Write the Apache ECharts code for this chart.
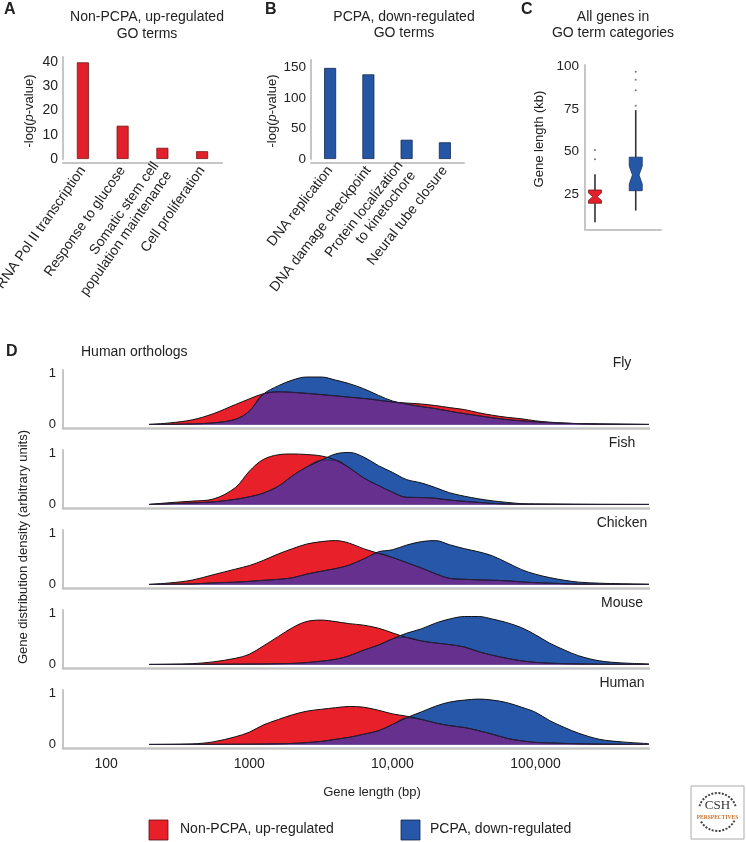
<!DOCTYPE html>
<html>
<head>
<meta charset="utf-8">
<script src="https://cdn.jsdelivr.net/npm/echarts@6/dist/echarts.min.js"></script>
<style>
  html, body { margin: 0; padding: 0; background: #fff; }
  #chart { width: 746px; height: 842px; }
</style>
</head>
<body>
<div id="chart"></div>
<script>
// ---- data ----

// A: non-PCPA, up-regulated GO terms
var upTerms = ['RNA Pol II transcription', 'Response to glucose', 'Somatic stem cell\npopulation maintenance', 'Cell proliferation'];
var upLogP = [39.8, 13.7, 4.6, 3.2];

// B: PCPA, down-regulated GO terms
var downTerms = ['DNA replication', 'DNA damage checkpoint', 'Protein localization\nto kinetochore', 'Neural tube closure'];
var downLogP = [149, 138.5, 31.5, 27.3];

// C: gene length (kb) boxes, [x, low, q1, notchLow, median, notchHigh, q3, high]
var boxStats = [
    [1, 8.5, 19.7, 21.4, 23.6, 25.8, 27.5, 36.8],
    [2, 15.4, 27.1, 31.0, 36.3, 41.6, 46.8, 74.5]
];
var boxOutliers = [[1, 51], [1, 45.6], [2, 97], [2, 92.3], [2, 86.2], [2, 77]];
var boxTicks = [25, 50, 75, 100];

// D: density of gene length (bp), one row per ortholog set
var species = ['Fly', 'Fish', 'Chicken', 'Mouse', 'Human'];
var geneLength = [200, 280, 400, 560, 800, 1000, 1250, 1600, 2000, 2500, 3200, 4000, 5000, 6300, 8000,
    10000, 12500, 16000, 20000, 25000, 32000, 40000, 50000, 63000, 80000, 100000, 125000, 160000,
    200000, 280000, 400000, 620000];
var lengthTicks = [100, 1000, 10000, 100000];

var flyUp = [0, 0.03, 0.09, 0.21, 0.39, 0.5, 0.6, 0.64, 0.63, 0.61, 0.585, 0.56, 0.535, 0.51, 0.475, 0.44, 0.42, 0.4, 0.37, 0.33, 0.29, 0.23, 0.18, 0.14, 0.11, 0.07, 0.045, 0.025, 0.015, 0.007, 0.003, 0];
var flyDown = [0, 0.003, 0.01, 0.03, 0.1, 0.26, 0.59, 0.76, 0.87, 0.93, 0.93, 0.87, 0.8, 0.7, 0.57, 0.46, 0.4, 0.35, 0.31, 0.26, 0.21, 0.17, 0.13, 0.095, 0.07, 0.05, 0.035, 0.024, 0.017, 0.01, 0.005, 0];
var fishUp = [0, 0.035, 0.065, 0.105, 0.33, 0.65, 0.88, 0.975, 0.99, 0.98, 0.95, 0.87, 0.72, 0.52, 0.37, 0.24, 0.14, 0.135, 0.12, 0.085, 0.06, 0.04, 0.02, 0.01, 0.006, 0.004, 0.003, 0.002, 0.001, 0, 0, 0];
var fishDown = [0, 0.015, 0.03, 0.05, 0.1, 0.15, 0.22, 0.36, 0.56, 0.73, 0.87, 0.99, 1.02, 0.93, 0.76, 0.63, 0.49, 0.42, 0.33, 0.23, 0.16, 0.11, 0.07, 0.04, 0.015, 0.01, 0.007, 0.005, 0.003, 0.002, 0.001, 0];
var chickenUp = [0, 0.03, 0.085, 0.19, 0.3, 0.37, 0.47, 0.6, 0.7, 0.79, 0.84, 0.86, 0.81, 0.7, 0.61, 0.53, 0.43, 0.32, 0.21, 0.12, 0.1, 0.09, 0.083, 0.07, 0.05, 0.035, 0.025, 0.014, 0.008, 0.004, 0.002, 0];
var chickenDown = [0, 0.005, 0.01, 0.03, 0.045, 0.06, 0.08, 0.1, 0.13, 0.2, 0.26, 0.31, 0.38, 0.5, 0.64, 0.68, 0.77, 0.84, 0.86, 0.78, 0.7, 0.64, 0.56, 0.43, 0.29, 0.2, 0.135, 0.08, 0.045, 0.024, 0.013, 0.005];
var mouseUp = [0, 0.005, 0.015, 0.05, 0.12, 0.2, 0.36, 0.55, 0.72, 0.84, 0.87, 0.84, 0.8, 0.77, 0.71, 0.62, 0.53, 0.46, 0.42, 0.39, 0.34, 0.25, 0.18, 0.12, 0.07, 0.04, 0.025, 0.015, 0.01, 0.005, 0.002, 0];
var mouseDown = [0, 0, 0.002, 0.004, 0.006, 0.008, 0.01, 0.015, 0.02, 0.035, 0.065, 0.1, 0.17, 0.28, 0.38, 0.5, 0.61, 0.7, 0.81, 0.89, 0.94, 0.94, 0.89, 0.82, 0.72, 0.58, 0.42, 0.28, 0.17, 0.07, 0.03, 0.01];
var humanUp = [0, 0.003, 0.01, 0.05, 0.15, 0.24, 0.38, 0.49, 0.58, 0.65, 0.69, 0.72, 0.745, 0.73, 0.67, 0.6, 0.555, 0.49, 0.42, 0.37, 0.33, 0.27, 0.2, 0.12, 0.07, 0.04, 0.03, 0.02, 0.013, 0.007, 0.003, 0];
var humanDown = [0, 0, 0.002, 0.003, 0.004, 0.005, 0.008, 0.012, 0.02, 0.035, 0.06, 0.1, 0.14, 0.2, 0.27, 0.39, 0.52, 0.64, 0.75, 0.83, 0.87, 0.89, 0.87, 0.82, 0.73, 0.63, 0.47, 0.33, 0.22, 0.1, 0.05, 0.015];

var densityUp = [flyUp, fishUp, chickenUp, mouseUp, humanUp];
var densityDown = [flyDown, fishDown, chickenDown, mouseDown, humanDown];

// ---- styles ----
var FONT = "'Liberation Sans', Arial, Helvetica, sans-serif";
var INK = '#222';
var AXIS_GRAY = '#c6c6c6';
var RED = '#E8202A', BLUE = '#2757A8', PURPLE = '#66308E';
var BOX_FILL = ['#E2202B', '#2457A6'];
var BOX_EDGE = ['#7a1414', '#16306a'];

function txt(text, x, y, size, opt) {
    opt = opt || {};
    var align = opt.align || 'center';
    return {
        type: 'text', x: x, y: y, silent: true,
        rotation: opt.rotate ? Math.PI / 2 : 0,
        style: {
            text: text, fill: INK,
            font: (opt.bold ? 'bold ' : '') + size + 'px ' + FONT,
            textAlign: align, align: align,
            textVerticalAlign: 'middle', verticalAlign: 'middle',
            rich: opt.rich
        }
    };
}

var italicP = {
    i: { fontStyle: 'italic', fontSize: 13, fontFamily: FONT, fill: INK },
    n: { fontSize: 13, fontFamily: FONT, fill: INK }
};

var graphics = [
    txt('A', 4, 10, 16, { bold: true, align: 'left' }),
    txt('B', 265, 10, 16, { bold: true, align: 'left' }),
    txt('C', 521, 10, 16, { bold: true, align: 'left' }),
    txt('D', 6, 352, 16, { bold: true, align: 'left' }),
    txt('Non-PCPA, up-regulated', 147, 17, 14),
    txt('GO terms', 147, 34, 14),
    txt('PCPA, down-regulated', 404, 17, 14),
    txt('GO terms', 404, 33, 14),
    txt('All genes in', 613, 17, 14),
    txt('GO term categories', 613, 33, 14),
    txt('{n|-log(}{i|p}{n|-value)}', 29, 111, 13, { rotate: true, rich: italicP }),
    txt('{n|-log(}{i|p}{n|-value)}', 272, 111, 13, { rotate: true, rich: italicP }),
    txt('Gene length (kb)', 539, 139, 13, { rotate: true }),
    txt('Gene distribution density (arbitrary units)', 23, 547, 13, { rotate: true }),
    txt('Human orthologs', 81, 352, 14, { align: 'left' }),
    txt('Gene length (bp)', 372, 792, 13),
    { type: 'rect', shape: { x: 149, y: 820, width: 19, height: 20 }, style: { fill: RED, stroke: '#5a1010', lineWidth: 0.8 } },
    txt('Non-PCPA, up-regulated', 180, 829, 14, { align: 'left' }),
    { type: 'rect', shape: { x: 401, y: 820, width: 19, height: 20 }, style: { fill: BLUE, stroke: '#10244f', lineWidth: 0.8 } },
    txt('PCPA, down-regulated', 430, 829, 14, { align: 'left' }),
    // publisher badge
    { type: 'rect', shape: { x: 691, y: 786, width: 53, height: 53 }, style: { fill: '#fff', stroke: '#aaa', lineWidth: 1 } },
    { type: 'arc', shape: { cx: 717.5, cy: 812, r: 19, startAngle: Math.PI * 1.1, endAngle: Math.PI * 1.9 }, style: { stroke: '#444', fill: 'none', lineWidth: 2, lineDash: [2, 1.5] } },
    { type: 'arc', shape: { cx: 717.5, cy: 812, r: 19, startAngle: Math.PI * 0.15, endAngle: Math.PI * 0.85 }, style: { stroke: '#444', fill: 'none', lineWidth: 2, lineDash: [2, 1.5] } },
    { type: 'text', x: 717.5, y: 806, style: { text: 'CSH', font: '13px "Liberation Serif", serif', fill: '#333', textAlign: 'center', align: 'center', textVerticalAlign: 'middle', verticalAlign: 'middle' } },
    { type: 'text', x: 717.5, y: 818, style: { text: 'PERSPECTIVES', font: 'bold 5.5px "Liberation Serif", serif', fill: '#c8702a', textAlign: 'center', align: 'center', textVerticalAlign: 'middle', verticalAlign: 'middle' } }
];

species.forEach(function (name, k) {
    graphics.push(txt(name, 622, 363 + 80 * k, 14));
});

// ---- grids and axes ----
var grids = [
    { left: 63, top: 57, width: 159, height: 102, outerBoundsMode: 'none' },
    { left: 311, top: 60, width: 153, height: 99, outerBoundsMode: 'none' },
    { left: 585, top: 65, width: 76, height: 164.3, outerBoundsMode: 'none' }
];
species.forEach(function (name, k) {
    grids.push({ left: 63, top: 369.9 + 80 * k, width: 586, height: 58.6, outerBoundsMode: 'none' });
});

var axisLineStyle = { onZero: false, lineStyle: { color: AXIS_GRAY, width: 2 } };

function termLabels(angle) {
    return { interval: 0, rotate: angle, margin: 5, color: INK, fontSize: 14, fontFamily: FONT, lineHeight: 16 };
}

var xAxes = [
    {
        gridIndex: 0, type: 'category', data: upTerms, offset: 4,
        axisLine: axisLineStyle, axisTick: { show: false }, axisLabel: termLabels(55)
    },
    {
        gridIndex: 1, type: 'category', data: downTerms, offset: 4,
        axisLine: axisLineStyle, axisTick: { show: false }, axisLabel: termLabels(52)
    },
    {
        gridIndex: 2, type: 'value', min: 0.755, max: 2.62,
        axisLine: axisLineStyle, axisTick: { show: false }, axisLabel: { show: false }, splitLine: { show: false }
    }
];
var yAxes = [
    {
        gridIndex: 0, type: 'value', min: 0, max: 42, interval: 10,
        axisLine: { show: true, onZero: false, lineStyle: { color: AXIS_GRAY, width: 2 } },
        axisTick: { show: false }, splitLine: { show: false },
        axisLabel: { margin: 5, color: INK, fontSize: 14, fontFamily: FONT,
            formatter: function (v) { return v % 10 === 0 ? v : ''; } }
    },
    {
        gridIndex: 1, type: 'value', min: 0, max: 162, interval: 50,
        axisLine: { show: true, onZero: false, lineStyle: { color: AXIS_GRAY, width: 2 } },
        axisTick: { show: false }, splitLine: { show: false },
        axisLabel: { margin: 5, color: INK, fontSize: 13.5, fontFamily: FONT,
            formatter: function (v) { return v % 50 === 0 ? v : ''; } }
    },
    {
        gridIndex: 2, type: 'value', min: 4.4, max: 101,
        axisLine: { show: true, onZero: false, lineStyle: { color: AXIS_GRAY, width: 2 } },
        axisTick: { show: false }, splitLine: { show: false },
        axisLabel: { margin: 6, color: INK, fontSize: 13.5, fontFamily: FONT, customValues: boxTicks }
    }
];

function lengthLabel(v) {
    var r = Math.round(v);
    if (lengthTicks.indexOf(r) < 0) return '';
    return r >= 10000 ? r.toLocaleString('en-US') : String(r);
}

species.forEach(function (name, k) {
    var last = k === species.length - 1;
    xAxes.push({
        gridIndex: 3 + k, type: 'log', logBase: 10, min: 50, max: 620000,
        axisLine: { onZero: false, lineStyle: { color: AXIS_GRAY, width: 2.5 } },
        axisTick: { show: false }, splitLine: { show: false }, minorSplitLine: { show: false },
        axisLabel: { show: last, margin: 9, color: INK, fontSize: 14, fontFamily: FONT, formatter: lengthLabel }
    });
    yAxes.push({
        gridIndex: 3 + k, type: 'value', min: -0.08, max: 1.07,
        axisLine: { show: true, onZero: false, lineStyle: { color: AXIS_GRAY, width: 2 } },
        axisTick: { show: false }, splitLine: { show: false },
        axisLabel: {
            margin: 7, color: INK, fontSize: 13, fontFamily: FONT, customValues: [0, 1],
            formatter: function (v) { return Math.abs(v) < 1e-6 ? '0' : (Math.abs(v - 1) < 1e-6 ? '1' : ''); }
        }
    });
});

// ---- series ----
function renderBox(params, api) {
    var x = api.value(0);
    var cx = api.coord([x, api.value(4)])[0];
    function py(i) { return api.coord([x, api.value(i)])[1]; }
    var hw = 6.5;
    var inset = params.dataIndex === 0 ? 4.3 : 3.2;
    var low = py(1), q1 = py(2), nLo = py(3), med = py(4), nHi = py(5), q3 = py(6), high = py(7);
    var pts = [
        [cx - hw, q3], [cx + hw, q3], [cx + hw, nHi], [cx + hw - inset, med], [cx + hw, nLo],
        [cx + hw, q1], [cx - hw, q1], [cx - hw, nLo], [cx - hw + inset, med], [cx - hw, nHi]
    ];
    var whisker = { stroke: '#333', lineWidth: 1.6 };
    return {
        type: 'group',
        children: [
            { type: 'line', shape: { x1: cx, y1: high, x2: cx, y2: q3 }, style: whisker },
            { type: 'line', shape: { x1: cx, y1: q1, x2: cx, y2: low }, style: whisker },
            { type: 'polygon', shape: { points: pts }, style: { fill: BOX_FILL[params.dataIndex], stroke: BOX_EDGE[params.dataIndex], lineWidth: 0.8 } }
        ]
    };
}

var series = [
    {
        type: 'bar', xAxisIndex: 0, yAxisIndex: 0, data: upLogP, barWidth: 12,
        itemStyle: { color: '#E2202B', borderColor: '#701818', borderWidth: 0.8 }
    },
    {
        type: 'bar', xAxisIndex: 1, yAxisIndex: 1, data: downLogP, barWidth: 12,
        itemStyle: { color: '#2555A5', borderColor: '#14284f', borderWidth: 0.8 }
    },
    {
        type: 'custom', xAxisIndex: 2, yAxisIndex: 2, data: boxStats,
        encode: { x: 0, y: [1, 2, 3, 4, 5, 6, 7] }, renderItem: renderBox
    },
    {
        type: 'scatter', xAxisIndex: 2, yAxisIndex: 2, data: boxOutliers,
        symbolSize: 2, itemStyle: { color: '#555' }
    }
];

species.forEach(function (name, k) {
    var up = geneLength.map(function (x, i) { return [x, densityUp[k][i]]; });
    var down = geneLength.map(function (x, i) { return [x, densityDown[k][i]]; });
    var overlap = geneLength.map(function (x, i) { return [x, Math.min(densityUp[k][i], densityDown[k][i])]; });
    var common = { type: 'line', xAxisIndex: 3 + k, yAxisIndex: 3 + k, smooth: 0.35, symbol: 'none', silent: true };
    series.push(Object.assign({ name: 'Non-PCPA, up-regulated', data: up,
        lineStyle: { color: '#111', width: 1 }, areaStyle: { color: RED, opacity: 1 } }, common));
    series.push(Object.assign({ name: 'PCPA, down-regulated', data: down,
        lineStyle: { color: '#111', width: 1 }, areaStyle: { color: BLUE, opacity: 1 } }, common));
    series.push(Object.assign({ name: 'overlap', data: overlap,
        lineStyle: { color: '#2e1f48', width: 0.8 }, areaStyle: { color: PURPLE, opacity: 1 } }, common));
});

var chart = echarts.init(document.getElementById('chart'));
chart.setOption({
    animation: false,
    backgroundColor: '#fff',
    textStyle: { fontFamily: FONT },
    grid: grids,
    xAxis: xAxes,
    yAxis: yAxes,
    series: series,
    graphic: { elements: graphics }
});
</script>
</body>
</html>
